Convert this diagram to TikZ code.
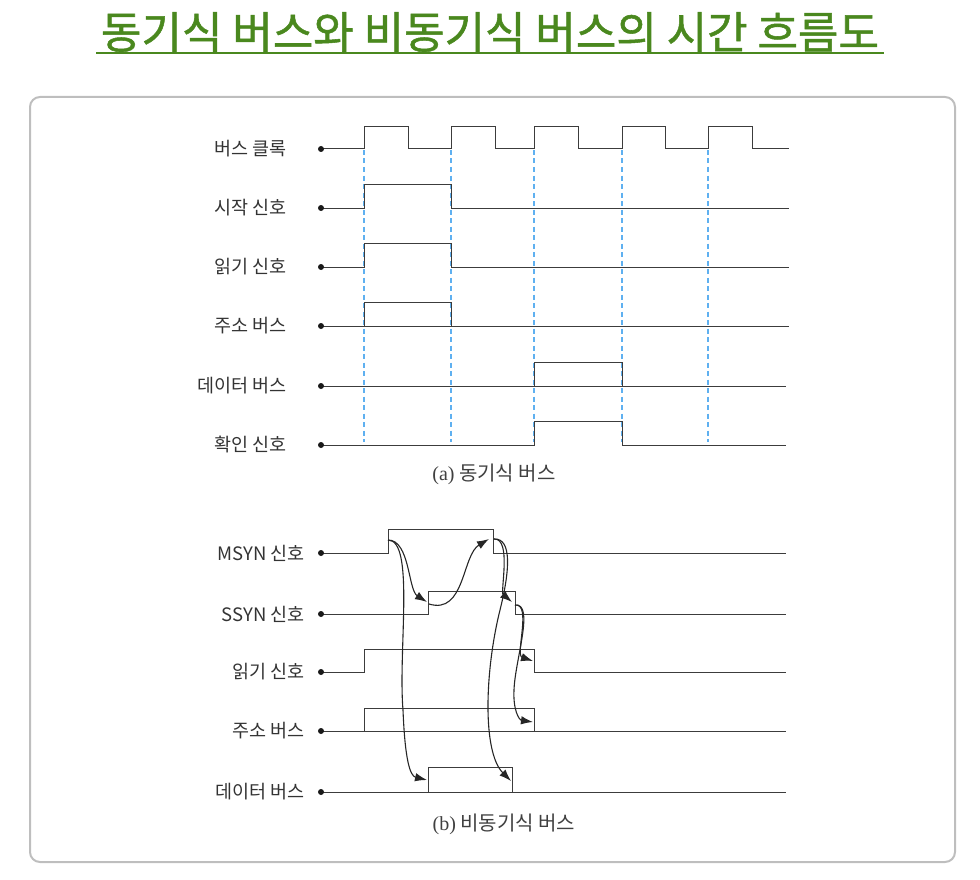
\documentclass[tikz,border=0pt]{standalone}
\usepackage{fontspec}
\setmainfont{Noto Sans CJK KR}
\newfontfamily\krfont{Noto Sans CJK KR}
\newfontfamily\titlefont{Noto Sans CJK KR}[FakeBold=1.2]
\newfontfamily\capserif{Liberation Serif}
\usetikzlibrary{arrows.meta}
\definecolor{titlegreen}{RGB}{74,136,30}
\definecolor{dashblue}{RGB}{95,176,240}
\definecolor{wavegray}{RGB}{60,60,60}
\definecolor{framegray}{RGB}{190,190,190}
\tikzset{
  wave/.style={draw=wavegray, line width=1pt},
  sigdot/.style={circle, fill=black!90, inner sep=0pt, minimum size=6pt},
  siglabel/.style={anchor=east, font=\krfont\fontsize{18.5}{20}\selectfont, text=black!80, inner sep=0pt},
  clockline/.style={draw=dashblue, line width=2.4pt, dash pattern=on 5pt off 3.5pt},
  flow/.style={draw=black!85, line width=1.1pt, -{Latex[length=12pt,width=8.5pt]}},
  captext/.style={font=\fontsize{20}{22}\selectfont, text=black!75, inner sep=0pt}
}
\begin{document}
\begin{tikzpicture}[x=1pt,y=-1pt]
\useasboundingbox (0,0) rectangle (980,880);
% title
\node[font=\titlefont\fontsize{44}{50}\selectfont, text=titlegreen, inner sep=0pt] (title) at (490,32) {동기식 버스와 비동기식 버스의 시간 흐름도};
\coordinate (ulA) at (96,53);
\coordinate (ulB) at (884,53);
\draw[titlegreen, line width=2pt] (ulA) -- (ulB);
% frame
\draw[framegray, line width=2pt, rounded corners=10pt] (30,97) rectangle (955,862);

% ---------- (a) synchronous ----------
\node[siglabel] (la1) at (287,149) {버스 클록};
\node[siglabel] (la2) at (287,208) {시작 신호};
\node[siglabel] (la3) at (287,267) {읽기 신호};
\node[siglabel] (la4) at (287,326) {주소 버스};
\node[siglabel] (la5) at (287,386) {데이터 버스};
\node[siglabel] (la6) at (287,445) {확인 신호};

% dashed clock marks
\foreach \x/\n in {364/1,451/2,534/3,622/4,708/5}{
  \coordinate (dt\n) at (\x,150);
  \coordinate (db\n) at (\x,442);
  \draw[clockline] (dt\n) -- (db\n);
}

% clock
\draw[wave] (321,149) -- (364,149) -- (364,127) -- (408,127) -- (408,149) -- (451,149) -- (451,127) -- (495,127) -- (495,149) -- (534,149) -- (534,127) -- (578,127) -- (578,149) -- (622,149) -- (622,127) -- (665,127) -- (665,149) -- (708,149) -- (708,127) -- (752,127) -- (752,149) -- (789,149);
% start
\draw[wave] (321,208) -- (364,208) -- (364,184) -- (451,184) -- (451,208) -- (789,208);
% read
\draw[wave] (321,267) -- (364,267) -- (364,243) -- (451,243) -- (451,267) -- (789,267);
% address bus
\draw[wave] (321,326) -- (789,326);
\draw[wave] (364,326) -- (364,302) -- (451,302) -- (451,326);
% data bus
\draw[wave] (321,386) -- (786,386);
\draw[wave] (534,386) -- (534,362) -- (622,362) -- (622,386);
% ack
\draw[wave] (321,445) -- (534,445) -- (534,421) -- (622,421) -- (622,445) -- (786,445);

\foreach \y/\n in {149/1,208/2,267/3,326/4,386/5,445/6}{
  \node[sigdot] (da\n) at (321,\y) {};
}
\node[captext] (capa) at (494,474) {\capserif (a)\krfont{} 동기식 버스};

% ---------- (b) asynchronous ----------
\node[siglabel] (lb1) at (305,553) {MSYN 신호};
\node[siglabel] (lb2) at (305,614) {SSYN 신호};
\node[siglabel] (lb3) at (305,672) {읽기 신호};
\node[siglabel] (lb4) at (305,731) {주소 버스};
\node[siglabel] (lb5) at (305,792) {데이터 버스};

% MSYN
\draw[wave] (321,553) -- (388,553) -- (388,529) -- (493,529) -- (493,553) -- (786,553);
% SSYN
\draw[wave] (321,614) -- (428,614) -- (428,591) -- (515,591) -- (515,614) -- (786,614);
% read
\draw[wave] (321,672) -- (364,672) -- (364,649) -- (534,649) -- (534,672) -- (786,672);
% address
\draw[wave] (321,731) -- (786,731);
\draw[wave] (364,731) -- (364,708) -- (534,708) -- (534,731);
% data
\draw[wave] (321,792) -- (786,792);
\draw[wave] (428,792) -- (428,767) -- (512,767) -- (512,792);

\foreach \y/\n in {553/1,614/2,672/3,731/4,792/5}{
  \node[sigdot] (db\n) at (321,\y) {};
}

% arrow anchor points
\coordinate (msynUp) at (388,540);
\coordinate (msynDn) at (494,539);
\coordinate (ssynUp) at (427,602);
\coordinate (ssynStart) at (429,604);
\coordinate (ssynDnTip) at (512,602);
\coordinate (ssynDn) at (515,605);
\coordinate (readTip) at (533,661);
\coordinate (addrTip) at (533,722);
\coordinate (dataTipA) at (427,780);
\coordinate (dataTipB) at (511,781);
\coordinate (msynTip) at (489,539);

\draw[flow] (msynUp) .. controls (410,540) and (408,590) .. (ssynUp);
\draw[flow] (msynUp) .. controls (415,540) and (398,650) .. (403,710) .. controls (405,760) and (410,776) .. (dataTipA);
\draw[flow] (ssynStart) .. controls (465,615) and (462,555) .. (msynTip);
\draw[flow] (msynDn) .. controls (512,538) and (500,592) .. (ssynDnTip);
\draw[flow] (msynDn) .. controls (512,538) and (510,570) .. (500,610) .. controls (485,670) and (482,752) .. (dataTipB);
\draw[flow] (ssynDn) .. controls (532,603) and (515,655) .. (readTip);
\draw[flow] (ssynDn) .. controls (535,603) and (515,660) .. (514,690) .. controls (513,710) and (519,720) .. (addrTip);

\node[captext] (capb) at (504,824) {\capserif (b)\krfont{} 비동기식 버스};
\end{tikzpicture}
\end{document}
